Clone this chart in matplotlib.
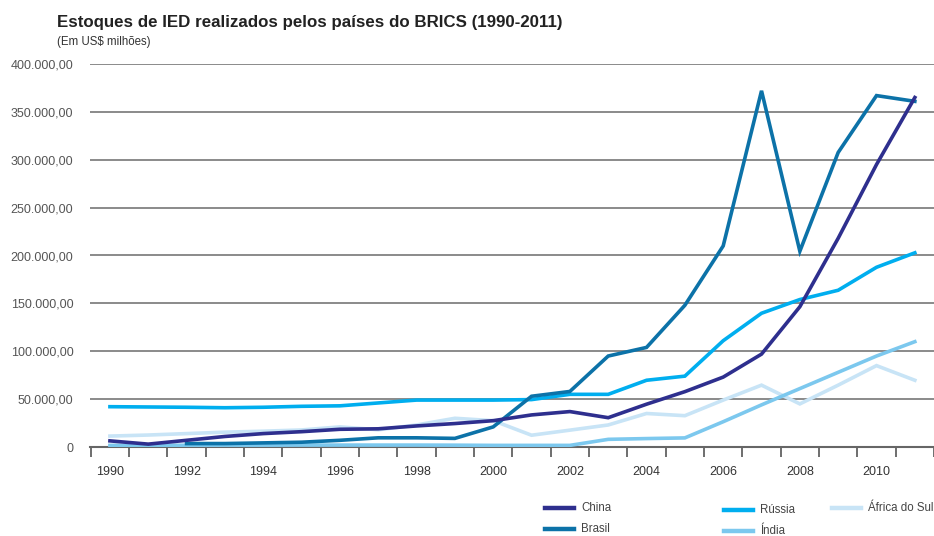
import matplotlib
matplotlib.use("Agg")
import matplotlib.pyplot as plt
from matplotlib.lines import Line2D
import numpy as np

plt.rcParams['font.family'] = ['Liberation Sans', 'DejaVu Sans']

years = list(range(1990, 2012))
nan = np.nan
china = [6.4, 3.0, 7.0, 11.0, 14.0, 16.0, 18.5, 19.0, 22.0, 24.5, 27.5, 33.5, 37.0, 30.6,
         44.7, 57.8, 73.0, 97.0, 146.5, 218.0, 295.0, 365.0]
brasil = [nan, nan, 3.6, 3.6, 4.3, 5.0, 7.0, 9.6, 9.6, 9.0, 21.0, 53.0, 58.0, 95.0,
          104.0, 148.0, 210.0, 372.0, 204.5, 307.6, 367.0, 361.0]
russia = [42.1, 41.8, 41.5, 41.0, 41.5, 42.5, 43.0, 46.0, 49.0, 49.0, 49.0, 49.5, 55.0, 55.0,
          69.7, 74.0, 111.0, 139.7, 154.0, 163.7, 187.7, 202.8]
india = [1.7, 1.8, 1.8, 1.9, 1.9, 2.0, 2.0, 2.0, 2.0, 1.9, 1.7, 1.7, 1.7, 8.0,
         8.8, 9.5, 26.4, 44.0, 61.0, 78.0, 95.0, 110.0]
africa = [11.4, 12.5, 14.0, 15.5, 16.5, 17.8, 21.0, 18.0, 23.0, 30.0, 27.5, 12.3, 17.6, 23.0,
          35.0, 32.7, 49.0, 64.6, 45.0, 64.6, 85.0, 69.7]
series_names = ["China", "Brasil", "Rússia", "Índia", "África do Sul"]
colors = {"China": "#2E2F8E", "Brasil": "#0C72A8", "Rússia": "#00AEEF",
          "Índia": "#7CC8EE", "África do Sul": "#C8E4F6"}
data = {"China": china, "Brasil": brasil, "Rússia": russia, "Índia": india, "África do Sul": africa}
yticks = [0, 50000, 100000, 150000, 200000, 250000, 300000, 350000, 400000]
ytick_labels = ["0", "50.000,00", "100.000,00", "150.000,00", "200.000,00",
                "250.000,00", "300.000,00", "350.000,00", "400.000,00"]
xlabels_years = list(range(1990, 2011, 2))

W, H = 934, 536
fig = plt.figure(figsize=(W / 100, H / 100), dpi=100)
ax = fig.add_axes([90 / W, 1 - 447 / H, 1 - 90 / W, (447 - 64) / H])

order = ["África do Sul", "Índia", "Rússia", "Brasil", "China"]
for name in order:
    vals = np.array(data[name], dtype=float) * 1000
    ax.plot(years, vals, color=colors[name], lw=2.6, solid_joinstyle='miter', zorder=3)

ax.set_xlim(1989.48, 2011.43)
ax.set_ylim(0, 400000)
ax.set_yticks(yticks)
ax.set_yticklabels(ytick_labels)
ax.set_xticks(xlabels_years)
ax.set_xticklabels([str(y) for y in xlabels_years])
ax.set_xticks(np.arange(1989.5, 2011.6, 1.0), minor=True)
ax.tick_params(axis='x', which='major', length=0, pad=14, labelsize=9, labelcolor='#333333')
ax.tick_params(axis='x', which='minor', length=7, width=1.2, color='#555555', direction='out')
ax.tick_params(axis='y', length=0, pad=12, labelsize=9, labelcolor='#555555')
for s in ['left', 'right', 'top']:
    ax.spines[s].set_visible(False)
ax.spines['bottom'].set_color('#666666')
ax.spines['bottom'].set_linewidth(1.5)
ax.yaxis.grid(True, color='#777777', lw=1.2)
ax.set_axisbelow(True)

fig.text(57 / W, 1 - 22 / H, "Estoques de IED realizados pelos países do BRICS (1990-2011)",
         fontsize=12.2, fontweight='bold', color='#222222', va='center', ha='left')
fig.text(57 / W, 1 - 42 / H, "(Em US$ milhões)", fontsize=8.3, color='#333333',
         va='center', ha='left')

legend_pos = {"China": (545, 508), "Brasil": (545, 529), "Rússia": (724, 510),
              "Índia": (724, 531), "África do Sul": (832, 508)}
for name in series_names:
    x0, y0 = legend_pos[name]
    fig.add_artist(Line2D([x0 / W, (x0 + 29) / W], [1 - y0 / H, 1 - y0 / H],
                          color=colors[name], lw=3.2, transform=fig.transFigure))
    fig.text((x0 + 36) / W, 1 - y0 / H, name, fontsize=8.3, color='#444444',
             va='center', ha='left')

fig.savefig("out.png", dpi=100)
